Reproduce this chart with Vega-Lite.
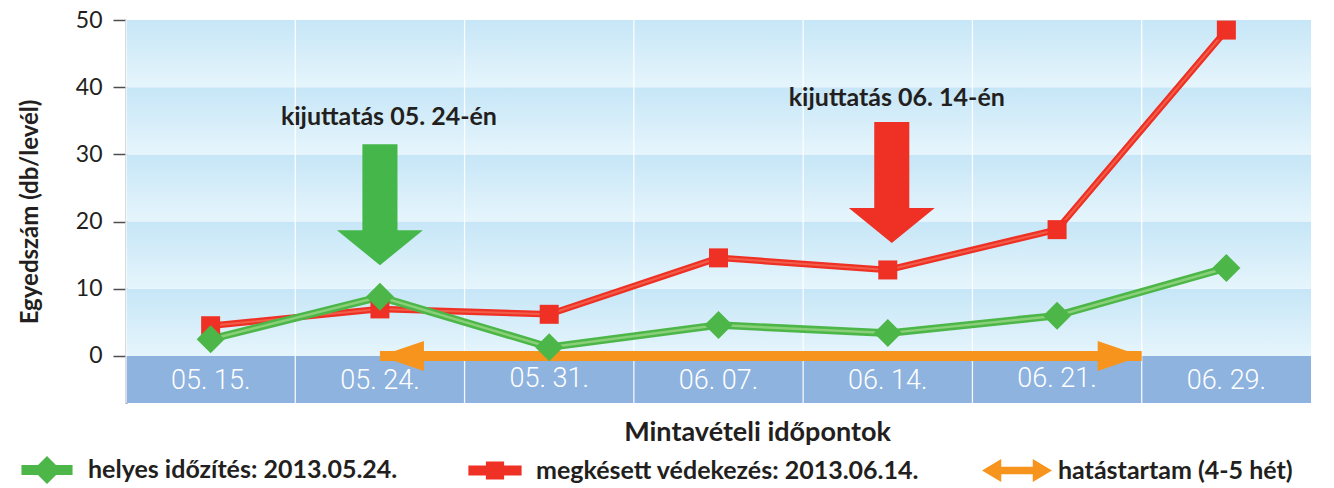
{
  "$schema": "https://vega.github.io/schema/vega-lite/v6.json",
  "width": 1185,
  "height": 383,
  "autosize": {"type": "none"},
  "padding": {"left": 126, "top": 20, "right": 23, "bottom": 85},
  "background": "white",
  "config": {
    "view": {"stroke": null},
    "font": "Lato",
    "axis": {"zindex": 1},
    "axisX": {
      "ticks": false, "tickSize": 0, "domain": false, "grid": false, "labels": false,
      "titleFont": "Lato", "titleFontSize": 27, "titleFontWeight": "bold", "titleColor": "#231f20",
      "titleX": 631, "titleY": 29, "titleBaseline": "middle"
    },
    "axisY": {
      "domainColor": "#4d4d4d", "domainWidth": 2, "tickColor": "#4d4d4d", "tickWidth": 1.5, "tickSize": 13,
      "labelFont": "Lato", "labelFontSize": 23, "labelColor": "#231f20", "labelPadding": 11, "grid": false,
      "titleFont": "Lato", "titleFontSize": 24, "titleFontWeight": "bold", "titleColor": "#231f20",
      "titleX": -96, "titleY": 191.5, "titleBaseline": "middle"
    }
  },
  "datasets": {
    "stripes": [
      {"lo": 0, "hi": 10}, {"lo": 10, "hi": 20}, {"lo": 20, "hi": 30}, {"lo": 30, "hi": 40}, {"lo": 40, "hi": 50}
    ],
    "band": [{"lo": -7, "hi": 0}],
    "dates": [
      {"date": "05. 15.", "value": -3.7}, {"date": "05. 24.", "value": -3.7}, {"date": "05. 31.", "value": -3.5},
      {"date": "06. 07.", "value": -3.7}, {"date": "06. 14.", "value": -3.7}, {"date": "06. 21.", "value": -3.5},
      {"date": "06. 29.", "value": -3.7}
    ],
    "series": [
      {"date": "05. 15.", "series": "megkésett védekezés: 2013.06.14.", "value": 4.5},
      {"date": "05. 24.", "series": "megkésett védekezés: 2013.06.14.", "value": 7.0},
      {"date": "05. 31.", "series": "megkésett védekezés: 2013.06.14.", "value": 6.2},
      {"date": "06. 07.", "series": "megkésett védekezés: 2013.06.14.", "value": 14.6},
      {"date": "06. 14.", "series": "megkésett védekezés: 2013.06.14.", "value": 12.8},
      {"date": "06. 21.", "series": "megkésett védekezés: 2013.06.14.", "value": 18.8},
      {"date": "06. 29.", "series": "megkésett védekezés: 2013.06.14.", "value": 48.5},
      {"date": "05. 15.", "series": "helyes időzítés: 2013.05.24.", "value": 2.5},
      {"date": "05. 24.", "series": "helyes időzítés: 2013.05.24.", "value": 8.8},
      {"date": "05. 31.", "series": "helyes időzítés: 2013.05.24.", "value": 1.3},
      {"date": "06. 07.", "series": "helyes időzítés: 2013.05.24.", "value": 4.6},
      {"date": "06. 14.", "series": "helyes időzítés: 2013.05.24.", "value": 3.4},
      {"date": "06. 21.", "series": "helyes időzítés: 2013.05.24.", "value": 6.0},
      {"date": "06. 29.", "series": "helyes időzítés: 2013.05.24.", "value": 13.1}
    ],
    "effect": [{"from": "05. 24.", "to": "06. 29.", "series": "hatástartam (4-5 hét)", "value": 0}],
    "annot": [
      {"date": "05. 24.", "value": 35.6, "label": "kijuttatás 05. 24-én"},
      {"date": "06. 14.", "value": 38.4, "label": "kijuttatás 06. 14-én"}
    ],
    "arrows": [
      {"date": "05. 24.", "value": 22.5, "kind": "helyes"},
      {"date": "06. 14.", "value": 25.8, "kind": "megkésett"}
    ]
  },
  "layer": [
    {
      "data": {"name": "stripes"},
      "mark": {"type": "rect", "color": {"gradient": "linear", "x1": 0, "y1": 0, "x2": 0, "y2": 1,
        "stops": [{"offset": 0, "color": "#c6e6f7"}, {"offset": 1, "color": "#e6f5fc"}]}},
      "encoding": {
        "y": {"field": "lo", "type": "quantitative", "scale": {"domain": [-7, 50], "nice": false, "zero": false},
          "axis": {"values": [0, 10, 20, 30, 40, 50]}, "title": "Egyedszám (db/levél)"},
        "y2": {"field": "hi"}
      }
    },
    {
      "data": {"name": "band"},
      "mark": {"type": "rect", "color": "#8eb3df"},
      "encoding": {
        "y": {"field": "lo", "type": "quantitative", "title": "Egyedszám (db/levél)"},
        "y2": {"field": "hi"}
      }
    },
    {
      "data": {"name": "dates"},
      "mark": {"type": "rule", "color": "#ffffff", "strokeWidth": 1.3, "opacity": 0.9},
      "encoding": {
        "x": {"field": "date", "type": "ordinal", "bandPosition": 0, "title": "Mintavételi időpontok",
          "scale": {"type": "band", "paddingInner": 0, "paddingOuter": 0,
            "domain": ["05. 15.", "05. 24.", "05. 31.", "06. 07.", "06. 14.", "06. 21.", "06. 29."]}}
      }
    },
    {
      "data": {"name": "dates"},
      "mark": {"type": "text", "font": "Roboto", "fontWeight": 300, "fontSize": 27, "color": "#ffffff", "baseline": "middle"},
      "encoding": {
        "x": {"field": "date", "type": "ordinal", "title": "Mintavételi időpontok"},
        "y": {"field": "value", "type": "quantitative", "title": "Egyedszám (db/levél)"},
        "text": {"field": "date"}
      }
    },
    {
      "data": {"name": "effect"},
      "mark": {"type": "rule", "strokeWidth": 10, "strokeCap": "butt"},
      "encoding": {
        "x": {"field": "from", "type": "ordinal", "title": "Mintavételi időpontok"},
        "x2": {"field": "to", "bandPosition": 0},
        "y": {"field": "value", "type": "quantitative", "title": "Egyedszám (db/levél)"},
        "color": {"field": "series", "type": "nominal"}
      }
    },
    {
      "data": {"name": "effect"},
      "mark": {"type": "point", "shape": "M0,0L2,-0.68L2,0.68Z", "size": 1936, "filled": true, "opacity": 1, "color": "#f7941d"},
      "encoding": {
        "x": {"field": "from", "type": "ordinal", "title": "Mintavételi időpontok"},
        "y": {"field": "value", "type": "quantitative", "title": "Egyedszám (db/levél)"}
      }
    },
    {
      "data": {"name": "effect"},
      "mark": {"type": "point", "shape": "M0,0L-2,-0.68L-2,0.68Z", "size": 1936, "filled": true, "opacity": 1, "color": "#f7941d"},
      "encoding": {
        "x": {"field": "to", "type": "ordinal", "bandPosition": 0, "title": "Mintavételi időpontok"},
        "y": {"field": "value", "type": "quantitative", "title": "Egyedszám (db/levél)"}
      }
    },
    {
      "data": {"name": "arrows"},
      "transform": [{"filter": "datum.kind === 'helyes'"}],
      "mark": {"type": "point", "shape": "M-0.29,-1L0.29,-1L0.29,0.42L0.71,0.42L0,1L-0.71,0.42L-0.29,0.42Z",
        "size": 14641, "filled": true, "opacity": 1, "color": "#45b649"},
      "encoding": {
        "x": {"field": "date", "type": "ordinal", "title": "Mintavételi időpontok"},
        "y": {"field": "value", "type": "quantitative", "title": "Egyedszám (db/levél)"}
      }
    },
    {
      "data": {"name": "arrows"},
      "transform": [{"filter": "datum.kind === 'megkésett'"}],
      "mark": {"type": "point", "shape": "M-0.29,-1L0.29,-1L0.29,0.42L0.71,0.42L0,1L-0.71,0.42L-0.29,0.42Z",
        "size": 14641, "filled": true, "opacity": 1, "color": "#ee3124", "xOffset": 4},
      "encoding": {
        "x": {"field": "date", "type": "ordinal", "title": "Mintavételi időpontok"},
        "y": {"field": "value", "type": "quantitative", "title": "Egyedszám (db/levél)"}
      }
    },
    {
      "data": {"name": "annot"},
      "mark": {"type": "text", "font": "Lato", "fontSize": 25, "fontWeight": "bold", "color": "#231f20", "dx": 9},
      "encoding": {
        "x": {"field": "date", "type": "ordinal", "title": "Mintavételi időpontok"},
        "y": {"field": "value", "type": "quantitative", "title": "Egyedszám (db/levél)"},
        "text": {"field": "label"}
      }
    },
    {
      "data": {"name": "series"},
      "transform": [{"filter": "datum.series === 'megkésett védekezés: 2013.06.14.'"}],
      "mark": {"type": "line", "strokeWidth": 6.5},
      "encoding": {
        "x": {"field": "date", "type": "ordinal", "title": "Mintavételi időpontok"},
        "y": {"field": "value", "type": "quantitative", "title": "Egyedszám (db/levél)"},
        "color": {"field": "series", "type": "nominal",
          "scale": {"domain": ["helyes időzítés: 2013.05.24.", "megkésett védekezés: 2013.06.14.", "hatástartam (4-5 hét)"],
            "range": ["#4cb748", "#ee3124", "#f7941d"]},
          "legend": {
            "title": null, "orient": "none", "legendX": -114, "legendY": 415, "direction": "horizontal", "columns": 3,
            "columnPadding": 62, "symbolSize": 4900, "labelFont": "Lato", "labelFontSize": 25, "labelFontWeight": "bold",
            "labelColor": "#231f20", "labelOffset": 6, "labelLimit": 600, "symbolStrokeWidth": 0,
            "encode": {"symbols": {"update": {
              "shape": {"signal": "datum.value === 'helyes időzítés: 2013.05.24.' ? 'M-0.73,-0.14L0.73,-0.14L0.73,0.14L-0.73,0.14ZM0,-0.4L0.4,0L0,0.4L-0.4,0Z' : (datum.value === 'megkésett védekezés: 2013.06.14.' ? 'M-0.76,-0.14L0.76,-0.14L0.76,0.14L-0.76,0.14ZM-0.26,-0.26L0.26,-0.26L0.26,0.26L-0.26,0.26Z' : 'M-1,0L-0.45,-0.33L-0.45,-0.11L0.45,-0.11L0.45,-0.33L1,0L0.45,0.33L0.45,0.11L-0.45,0.11L-0.45,0.33Z')"},
              "fill": {"scale": "color", "field": "value"},
              "strokeWidth": {"value": 0},
              "opacity": {"value": 1}
            }}}
          }}
      }
    },
    {
      "data": {"name": "series"},
      "transform": [{"filter": "datum.series === 'megkésett védekezés: 2013.06.14.'"}],
      "mark": {"type": "line", "strokeWidth": 2, "color": "#f47c62", "opacity": 0.6},
      "encoding": {
        "x": {"field": "date", "type": "ordinal", "title": "Mintavételi időpontok"},
        "y": {"field": "value", "type": "quantitative", "title": "Egyedszám (db/levél)"}
      }
    },
    {
      "data": {"name": "series"},
      "transform": [{"filter": "datum.series === 'helyes időzítés: 2013.05.24.'"}],
      "mark": {"type": "line", "strokeWidth": 7.5},
      "encoding": {
        "x": {"field": "date", "type": "ordinal", "title": "Mintavételi időpontok"},
        "y": {"field": "value", "type": "quantitative", "title": "Egyedszám (db/levél)"},
        "color": {"field": "series", "type": "nominal"}
      }
    },
    {
      "data": {"name": "series"},
      "transform": [{"filter": "datum.series === 'helyes időzítés: 2013.05.24.'"}],
      "mark": {"type": "line", "strokeWidth": 2.5, "color": "#9ad684", "opacity": 0.8},
      "encoding": {
        "x": {"field": "date", "type": "ordinal", "title": "Mintavételi időpontok"},
        "y": {"field": "value", "type": "quantitative", "title": "Egyedszám (db/levél)"}
      }
    },
    {
      "data": {"name": "series"},
      "transform": [{"filter": "datum.series === 'megkésett védekezés: 2013.06.14.'"}],
      "mark": {"type": "point", "shape": "square", "size": 361, "filled": true, "opacity": 1},
      "encoding": {
        "x": {"field": "date", "type": "ordinal", "title": "Mintavételi időpontok"},
        "y": {"field": "value", "type": "quantitative", "title": "Egyedszám (db/levél)"},
        "color": {"field": "series", "type": "nominal"}
      }
    },
    {
      "data": {"name": "series"},
      "transform": [{"filter": "datum.series === 'helyes időzítés: 2013.05.24.'"}],
      "mark": {"type": "point", "shape": "diamond", "size": 784, "filled": true, "opacity": 1},
      "encoding": {
        "x": {"field": "date", "type": "ordinal", "title": "Mintavételi időpontok"},
        "y": {"field": "value", "type": "quantitative", "title": "Egyedszám (db/levél)"},
        "color": {"field": "series", "type": "nominal"}
      }
    }
  ]
}
